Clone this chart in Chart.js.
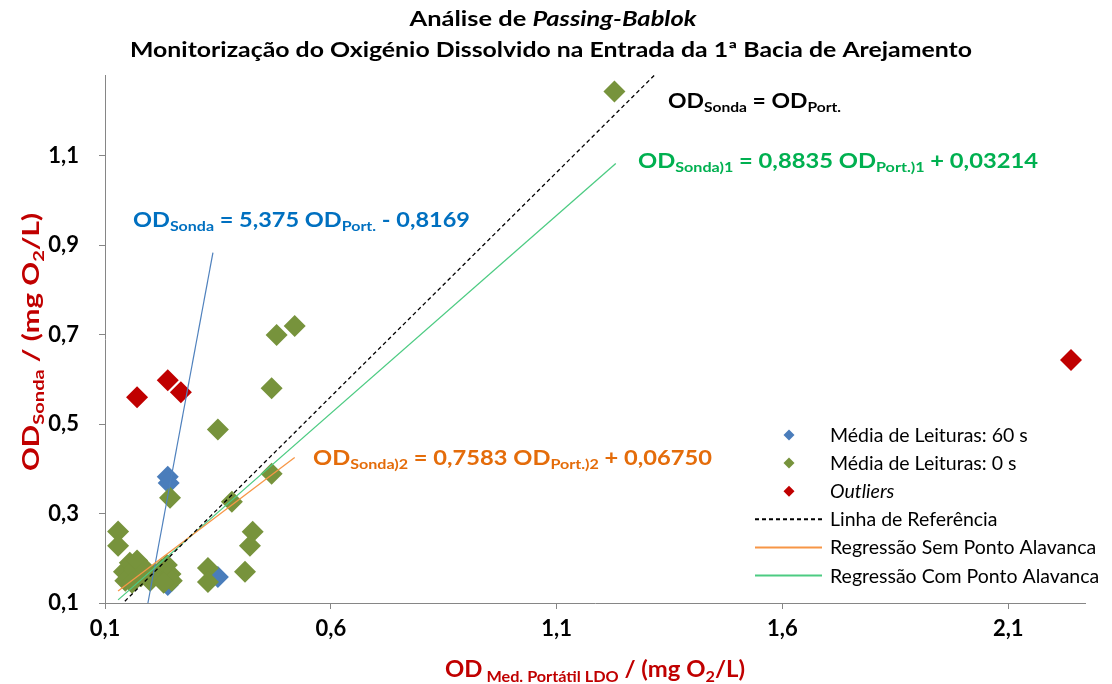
<!DOCTYPE html>
<html>
<head>
<meta charset="utf-8">
<script src="https://cdn.jsdelivr.net/npm/chart.js@4.4.1/dist/chart.umd.min.js"></script>
<style>html, body { margin: 0; background: #fff; }</style>
</head>
<body>
<canvas id="od" width="1112" height="684"></canvas>
<script>
const FONT = 'Lato, "Open Sans", sans-serif'

const xTicks = [0.1, 0.6, 1.1, 1.6, 2.1]
const yTicks = [0.1, 0.3, 0.5, 0.7, 0.9, 1.1]

// Média de Leituras: 60 s
const blueX = [0.239, 0.241, 0.239, 0.35, 0.182]
const blueY = [0.382, 0.368, 0.14, 0.158, 0.18]

// Média de Leituras: 0 s
const greenX = [1.228, 0.52, 0.48, 0.469, 0.35, 0.469, 0.381, 0.244, 0.427, 0.421, 0.41, 0.328, 0.328,
  0.129, 0.129, 0.142, 0.145, 0.155, 0.165, 0.171, 0.18, 0.19, 0.2, 0.21, 0.225, 0.237, 0.245, 0.248, 0.23, 0.16]
const greenY = [1.243, 0.719, 0.699, 0.58, 0.488, 0.389, 0.326, 0.335, 0.259, 0.228, 0.17, 0.178, 0.147,
  0.26, 0.228, 0.17, 0.15, 0.19, 0.175, 0.195, 0.16, 0.175, 0.15, 0.165, 0.175, 0.185, 0.165, 0.15, 0.145, 0.145]

// Outliers
const outX = [0.171, 0.239, 0.268, 2.239]
const outY = [0.56, 0.598, 0.571, 0.643]

// line end points
const refX = [0.144, 1.321], refY = [0.104, 1.284]
const semX = [0.129, 0.52], semY = [0.127, 0.425]
const comX = [0.129, 1.231], comY = [0.107, 1.082]
const sondaX = [0.195, 0.339], sondaY = [0.1, 0.883]

const pts = (xs, ys) => xs.map((x, i) => ({ x: x, y: ys[i] }))
const fmt = v => v.toFixed(1).replace('.', ',')

function fontFor(kind, size, weight) {
  const it = kind.includes('i') ? 'italic ' : ''
  const sz = kind.includes('s') ? size * 0.68 : size
  return it + weight + ' ' + sz + 'px ' + FONT
}

// text with subscripts / italics, optionally squeezed to a width
function drawRich(ctx, parts, x, y, o) {
  ctx.save()
  let w = 0
  parts.forEach(p => { ctx.font = fontFor(p[1] || '', o.size, o.weight); w += ctx.measureText(p[0]).width })
  const sx = o.width ? o.width / w : 1
  ctx.translate(x, y)
  if (o.rotate) ctx.rotate(o.rotate)
  ctx.scale(sx, 1)
  let cx = o.align === 'center' ? -w / 2 : 0
  ctx.fillStyle = o.color
  ctx.textAlign = 'left'
  ctx.textBaseline = 'alphabetic'
  parts.forEach(p => {
    const k = p[1] || ''
    ctx.font = fontFor(k, o.size, o.weight)
    ctx.fillText(p[0], cx, k.includes('s') ? o.size * 0.22 : 0)
    cx += ctx.measureText(p[0]).width
  })
  ctx.restore()
}

const decor = {
  id: 'decor',
  afterDraw(chart) {
    const c = chart.ctx
    // title
    drawRich(c, [['Análise de '], ['Passing-Bablok', 'i']], 553, 26, { size: 20, weight: 'bold', color: '#000', align: 'center', width: 287 })
    drawRich(c, [['Monitorização do Oxigénio Dissolvido na Entrada da 1ª Bacia de Arejamento']], 551, 57, { size: 20, weight: 'bold', color: '#000', align: 'center', width: 842 })

    // axis titles
    drawRich(c, [['OD'], [' Med. Portátil LDO', 's'], [' / (mg O'], ['2', 's'], ['/L)']], 595, 677, { size: 23, weight: 'bold', color: '#C00000', align: 'center', width: 300 })
    drawRich(c, [['OD'], ['Sonda', 's'], [' / (mg O'], ['2', 's'], ['/L)']], 39, 342, { size: 23, weight: 'bold', color: '#C00000', align: 'center', width: 258, rotate: -Math.PI / 2 })

    // equations
    drawRich(c, [['OD'], ['Sonda', 's'], [' = OD'], ['Port.', 's']], 668, 108, { size: 20, weight: 'bold', color: '#000', width: 173 })
    drawRich(c, [['OD'], ['Sonda)1', 's'], [' = 0,8835 OD'], ['Port.)1', 's'], [' + 0,03214']], 638, 168, { size: 20, weight: 'bold', color: '#00B050', width: 400 })
    drawRich(c, [['OD'], ['Sonda', 's'], [' = 5,375 OD'], ['Port.', 's'], [' - 0,8169']], 133, 227, { size: 20, weight: 'bold', color: '#0070C0', width: 337 })
    drawRich(c, [['OD'], ['Sonda)2', 's'], [' = 0,7583 OD'], ['Port.)2', 's'], [' + 0,06750']], 313, 465, { size: 20, weight: 'bold', color: '#E46C0A', width: 399 })

    // legend
    const items = chart.data.datasets.filter(d => d.inLegend)
    c.save()
    items.forEach((d, i) => {
      const y = 435 + i * 28.1
      if (d.showLine) {
        c.beginPath()
        c.strokeStyle = d.borderColor
        c.lineWidth = 2
        c.setLineDash(d.borderDash ? [4, 3] : [])
        c.moveTo(755, y)
        c.lineTo(822, y)
        c.stroke()
        c.setLineDash([])
      } else {
        c.fillStyle = d.backgroundColor
        c.beginPath()
        c.moveTo(789, y - 5.5); c.lineTo(794.5, y); c.lineTo(789, y + 5.5); c.lineTo(783.5, y)
        c.closePath()
        c.fill()
      }
      drawRich(c, [[d.label, d.italicLabel ? 'i' : '']], 830, y + 7, { size: 19.5, weight: 'normal', color: '#000' })
    })
    c.restore()
  }
}

const scatterDs = (label, xs, ys, color, order, extra) => Object.assign({
  label: label, data: pts(xs, ys), backgroundColor: color, borderColor: color, borderWidth: 0,
  pointStyle: 'rectRot', pointRadius: 11, pointHoverRadius: 11, order: order, inLegend: true
}, extra || {})

const lineDs = (label, xs, ys, color, extra) => Object.assign({
  label: label, data: pts(xs, ys), showLine: true, borderColor: color, backgroundColor: color,
  borderWidth: 1.3, pointRadius: 0, order: 1, inLegend: true
}, extra || {})

const axisGrid = { display: true, drawOnChartArea: false, drawTicks: true, tickLength: 6, color: '#868686' }
const tickFont = { family: FONT, size: 22, weight: 'bold' }

new Chart(document.getElementById('od'), {
  type: 'scatter',
  data: {
    datasets: [
      scatterDs('Média de Leituras: 60 s', blueX, blueY, '#4A7DBB', 4),
      scatterDs('Média de Leituras: 0 s', greenX, greenY, '#77933C', 3),
      scatterDs('Outliers', outX, outY, '#C00000', 2, { italicLabel: true }),
      lineDs('Linha de Referência', refX, refY, '#000000', { borderDash: [4, 3], borderWidth: 1.3 }),
      lineDs('Regressão Sem Ponto Alavanca', semX, semY, '#F79646'),
      lineDs('Regressão Com Ponto Alavanca', comX, comY, '#4CCB82'),
      lineDs('OD Sonda', sondaX, sondaY, '#4F81BD', { inLegend: false, borderWidth: 1.2 })
    ]
  },
  options: {
    responsive: false,
    devicePixelRatio: 1,
    animation: false,
    events: [],
    layout: { padding: { top: 75, right: 27, left: 0, bottom: 0 } },
    plugins: { legend: { display: false }, title: { display: false }, tooltip: { enabled: false } },
    scales: {
      x: {
        type: 'linear', min: 0.1, max: 2.27,
        grid: axisGrid,
        border: { display: true, color: '#868686', width: 1 },
        ticks: { font: tickFont, color: '#000', padding: 7, callback: v => fmt(v), maxRotation: 0 },
        afterBuildTicks: s => { s.ticks = xTicks.map(v => ({ value: v })) },
        afterFit: s => { s.height = 81 }
      },
      y: {
        type: 'linear', min: 0.1, max: 1.28,
        grid: axisGrid,
        border: { display: true, color: '#868686', width: 1 },
        ticks: { font: tickFont, color: '#000', padding: 20, callback: v => fmt(v) },
        afterBuildTicks: s => { s.ticks = yTicks.map(v => ({ value: v })) },
        afterFit: s => { s.width = 105 }
      }
    }
  },
  plugins: [decor]
})
</script>
</body>
</html>
